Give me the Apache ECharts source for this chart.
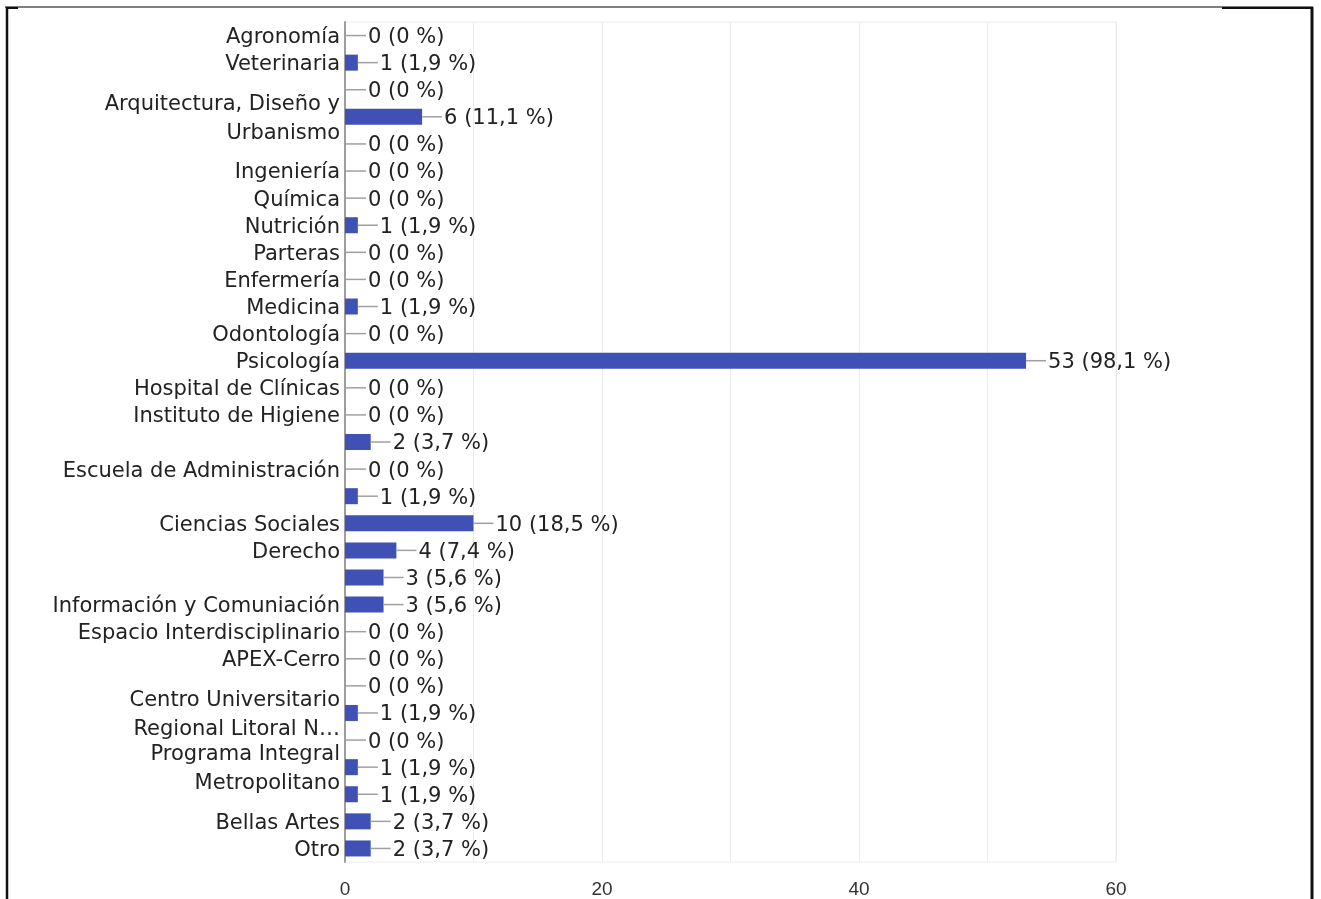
<!DOCTYPE html>
<html>
<head>
<meta charset="utf-8">
<title>Facultad / servicio</title>
<script src="https://cdn.jsdelivr.net/npm/echarts@6/dist/echarts.min.js"></script>
<style>
  html, body { margin: 0; padding: 0; background: #ffffff; }
  #chart { width: 1321px; height: 899px; }
</style>
</head>
<body>
<div id="chart"></div>
<script>
// Row labels (rows without a printed label are left blank)
var categories = [
  'Agronomía',
  'Veterinaria',
  '',
  'Arquitectura, Diseño y\nUrbanismo',
  '',
  'Ingeniería',
  'Química',
  'Nutrición',
  'Parteras',
  'Enfermería',
  'Medicina',
  'Odontología',
  'Psicología',
  'Hospital de Clínicas',
  'Instituto de Higiene',
  '',
  'Escuela de Administración',
  '',
  'Ciencias Sociales',
  'Derecho',
  '',
  'Información y Comuniación',
  'Espacio Interdisciplinario',
  'APEX-Cerro',
  '',
  'Centro Universitario\nRegional Litoral N…',
  '',
  'Programa Integral\nMetropolitano',
  '',
  'Bellas Artes',
  'Otro'
];

// Number of answers per row
var counts = [
  0, 1, 0, 6, 0, 0, 0, 1, 0, 0, 1, 0, 53, 0, 0, 2,
  0, 1, 10, 4, 3, 3, 0, 0, 0, 1, 0, 1, 1, 2, 2
];

// Total respondents (percentages are relative to this)
var respondents = 54;

// Value axis ticks
var xTickLabels = [0, 20, 40, 60];

var FONT = '"DejaVu Sans", "Liberation Sans", Arial, sans-serif';

function valueLabel(v) {
  if (v === 0) return '0 (0 %)';
  var pct = (v / respondents * 100).toFixed(1).replace('.', ',');
  return v + ' (' + pct + ' %)';
}

var chart = echarts.init(document.getElementById('chart'), null, { renderer: 'canvas' });

var option = {
  backgroundColor: '#ffffff',
  animation: false,
  grid: {
    left: 345,
    right: 205,
    top: 22,
    bottom: 37,
    show: true,
    borderColor: '#ececec',
    borderWidth: 1,
    containLabel: false
  },
  xAxis: {
    type: 'value',
    min: 0,
    max: 60,
    interval: 10,
    axisLine: { show: false },
    axisTick: { show: false },
    splitLine: { show: true, lineStyle: { color: '#ececec', width: 1 } },
    axisLabel: {
      margin: 18,
      color: '#333',
      fontSize: 19,
      fontFamily: '"Liberation Sans", Arial, sans-serif',
      formatter: function (v) {
        return xTickLabels.indexOf(v) >= 0 ? String(v) : '';
      }
    }
  },
  yAxis: {
    type: 'category',
    inverse: true,
    data: categories,
    axisTick: { show: false },
    axisLine: { show: true, lineStyle: { color: '#9e9e9e', width: 2 } },
    axisLabel: {
      margin: 5,
      interval: 0,
      align: 'right',
      formatter: function (name) {
        if (!name) return '';
        return name.split('\n').map(function (s) { return '{t|' + s + '}'; }).join('\n');
      },
      rich: {
        t: {
          color: '#222',
          fontSize: 21,
          fontFamily: FONT,
          lineHeight: 29,
          padding: [4, 0, 0, 0]
        }
      }
    }
  },
  series: [
    {
      type: 'bar',
      data: counts,
      barWidth: 16,
      itemStyle: { color: '#3f51b5' },
      z: 3
    },
    {
      // leader line + "n (p %)" annotation to the right of each bar
      type: 'custom',
      data: counts.map(function (v, i) { return [v, i]; }),
      encode: { x: 0, y: 1 },
      z: 4,
      renderItem: function (params, api) {
        var v = api.value(0);
        var i = api.value(1);
        var p = api.coord([v, i]);
        var x0 = p[0] + (v > 0 ? 0 : 1);
        return {
          type: 'group',
          children: [
            {
              type: 'line',
              shape: { x1: x0, y1: p[1], x2: x0 + 20, y2: p[1] },
              style: { stroke: '#a0a0a0', lineWidth: 1.5 }
            },
            {
              type: 'text',
              x: x0 + 22,
              y: p[1] + 2,
              style: {
                text: valueLabel(v),
                fill: '#222',
                font: '21px ' + FONT,
                align: 'left',
                verticalAlign: 'middle'
              }
            }
          ]
        };
      }
    }
  ],
  graphic: [
    // frame around the figure
    { type: 'line', shape: { x1: 5, y1: 7, x2: 1313, y2: 7 }, style: { stroke: '#555', lineWidth: 1.5 } },
    { type: 'line', shape: { x1: 7, y1: 8, x2: 18, y2: 8 }, style: { stroke: '#111', lineWidth: 2 } },
    { type: 'line', shape: { x1: 1222, y1: 8, x2: 1313, y2: 8 }, style: { stroke: '#111', lineWidth: 2 } },
    { type: 'line', shape: { x1: 7, y1: 7, x2: 7, y2: 899 }, style: { stroke: '#111', lineWidth: 2.5 } },
    { type: 'line', shape: { x1: 1312, y1: 7, x2: 1312, y2: 899 }, style: { stroke: '#111', lineWidth: 3 } }
  ]
};

chart.setOption(option);
</script>
</body>
</html>
